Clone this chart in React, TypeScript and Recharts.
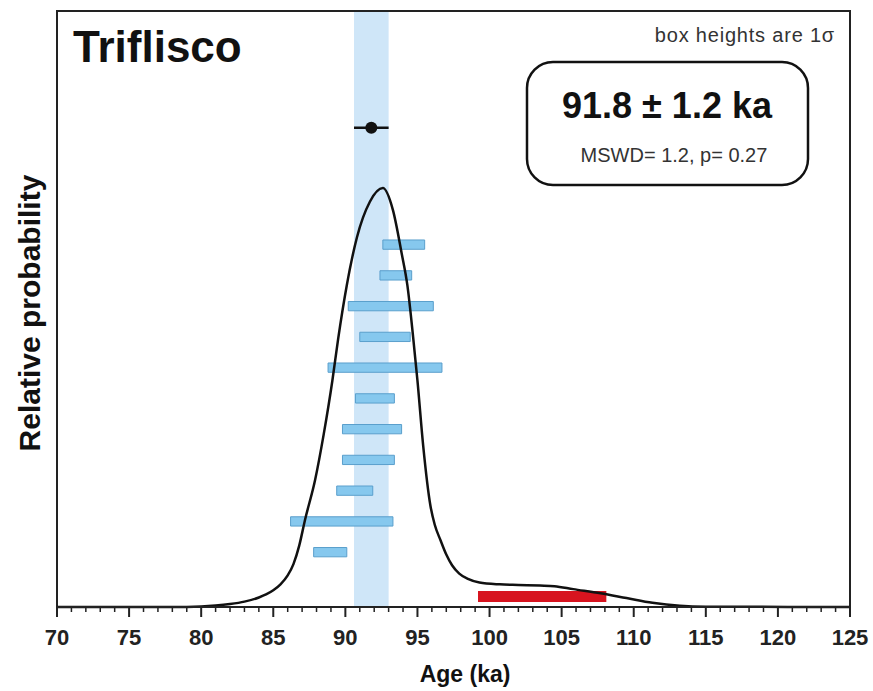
import React from 'react'
import {
  ComposedChart,
  Line,
  XAxis,
  YAxis,
  ReferenceArea,
  ReferenceLine,
  ReferenceDot,
} from 'recharts'

// probability density curve (age in ka, relative probability)
const curveAges = [
  70, 78, 80, 81, 82, 83, 84, 84.5, 85, 85.5, 86, 86.4, 86.8, 87.2, 87.9, 88.5, 89.1, 89.5, 90.1,
  90.8, 91.7, 92.6, 93.3, 93.9, 94.3, 94.7, 95.0, 95.4, 95.9, 96.2, 96.6, 97.0, 97.4, 97.9, 98.5,
  99.3, 100.7, 102, 103.5, 104.5, 105.8, 107.7, 109.5, 111.3, 113.2, 115, 125,
]
const curveProb = [
  0, 0, 0.1, 0.25, 0.5, 0.9, 1.6, 2.1, 2.8, 3.8, 5.3, 7.2, 10.3, 14.6, 21.3, 29, 38, 45, 54,
  62, 68, 70.3, 66.6, 59.4, 54, 45.3, 38, 27, 17, 13.8, 11.2, 8.8, 7.0, 5.6, 4.7,
  4.1, 3.8, 3.7, 3.6, 3.5, 3.0, 2.3, 1.5, 0.7, 0.2, 0.05, 0,
]

// individual ages, lower / upper end of each 1 sigma box, top row first
const boxLow = [92.6, 92.4, 90.2, 91.0, 88.8, 90.7, 89.8, 89.8, 89.4, 86.2, 87.8]
const boxHigh = [95.5, 94.6, 96.1, 94.5, 96.7, 93.4, 93.9, 93.4, 91.9, 93.3, 90.1]

// rejected analysis
const rejectedLow = 99.2
const rejectedHigh = 108.1

// weighted mean
const meanAge = 91.8
const meanErr = 1.2
const mswd = 1.2
const pValue = 0.27

const xTicks = Array.from({ length: 56 }, (_, i) => 70 + i)

const curveData = curveAges.map((age, i) => ({ age, p: curveProb[i] }))

const FONT = '"Liberation Sans", Arial, Helvetica, sans-serif'

const rowTop = 60.8
const rowStep = 5.16
const rowHalf = 0.78
const meanRowY = 80.4

const AgeTick = (props: any) => {
  const { x, y, payload } = props
  const v = payload.value
  const major = v % 5 === 0
  return (
    <g>
      <line x1={x} x2={x} y1={y} y2={y + (major ? 10 : 5)} stroke="#222" strokeWidth={major ? 2 : 1.5} />
      {major && (
        <text x={x} y={y + 38} textAnchor="middle" fontFamily={FONT} fontWeight="bold" fontSize={22} fill="#222">
          {v}
        </text>
      )}
    </g>
  )
}

export default function App() {
  return (
    <div style={{ position: 'absolute', left: 0, top: 0, width: 873, height: 691, background: '#fff' }}>
      <ComposedChart
        width={873}
        height={691}
        data={curveData}
        margin={{ top: 11, right: 23, bottom: 24, left: 57 }}
      >
        <XAxis
          dataKey="age"
          type="number"
          domain={[70, 125]}
          ticks={xTicks}
          interval={0}
          tickLine={false}
          tickSize={0}
          tickMargin={0}
          height={60}
          axisLine={{ stroke: '#222', strokeWidth: 2 }}
          tick={<AgeTick />}
        />
        <YAxis hide type="number" domain={[0, 100]} />
        <ReferenceArea x1={meanAge - meanErr} x2={meanAge + meanErr} y1={0} y2={100} fill="#cfe6f8" fillOpacity={1} stroke="none" />
        <Line
          dataKey="p"
          type="monotone"
          stroke="#111"
          strokeWidth={2.5}
          dot={false}
          isAnimationActive={false}
        />
        {boxLow.map((lo, i) => (
          <ReferenceArea
            key={i}
            x1={lo}
            x2={boxHigh[i]}
            y1={rowTop - i * rowStep - rowHalf}
            y2={rowTop - i * rowStep + rowHalf}
            fill="#86c8ee"
            fillOpacity={1}
            stroke="#5a9fcc"
            strokeWidth={1}
          />
        ))}
        <ReferenceArea x1={rejectedLow} x2={rejectedHigh} y1={0.84} y2={2.68} fill="#d7141f" fillOpacity={1} stroke="none" />
        <ReferenceLine
          segment={[
            { x: meanAge - meanErr, y: meanRowY },
            { x: meanAge + meanErr, y: meanRowY },
          ]}
          stroke="#111"
          strokeWidth={2.5}
        />
        <ReferenceDot x={meanAge} y={meanRowY} r={6} fill="#111" stroke="none" />
        <ReferenceArea x1={70} x2={125} y1={0} y2={100} fill="none" stroke="#222" strokeWidth={2} />
      </ComposedChart>
      <svg width={873} height={691} style={{ position: 'absolute', left: 0, top: 0, pointerEvents: 'none' }}>
        <text x={73} y={62} fontFamily={FONT} fontWeight="bold" fontSize={44} fill="#111">
          Triflisco
        </text>
        <text x={835} y={42} textAnchor="end" fontFamily={FONT} fontSize={20} letterSpacing={0.8} fill="#333">
          box heights are 1σ
        </text>
        <rect x={527} y={62} width={281} height={123} rx={26} ry={26} fill="#fff" stroke="#111" strokeWidth={2.5} />
        <text x={667} y={118} textAnchor="middle" fontFamily={FONT} fontWeight="bold" fontSize={36} fill="#111">
          {`${meanAge} ± ${meanErr} ka`}
        </text>
        <text x={674} y={162} textAnchor="middle" fontFamily={FONT} fontSize={20} fill="#333">
          {`MSWD= ${mswd}, p= ${pValue}`}
        </text>
        <text
          transform="translate(40, 313) rotate(-90)"
          textAnchor="middle"
          fontFamily={FONT}
          fontWeight="bold"
          fontSize={30}
          fill="#111"
        >
          Relative probability
        </text>
        <text x={465} y={682} textAnchor="middle" fontFamily={FONT} fontWeight="bold" fontSize={23} fill="#111">
          Age (ka)
        </text>
      </svg>
    </div>
  )
}
